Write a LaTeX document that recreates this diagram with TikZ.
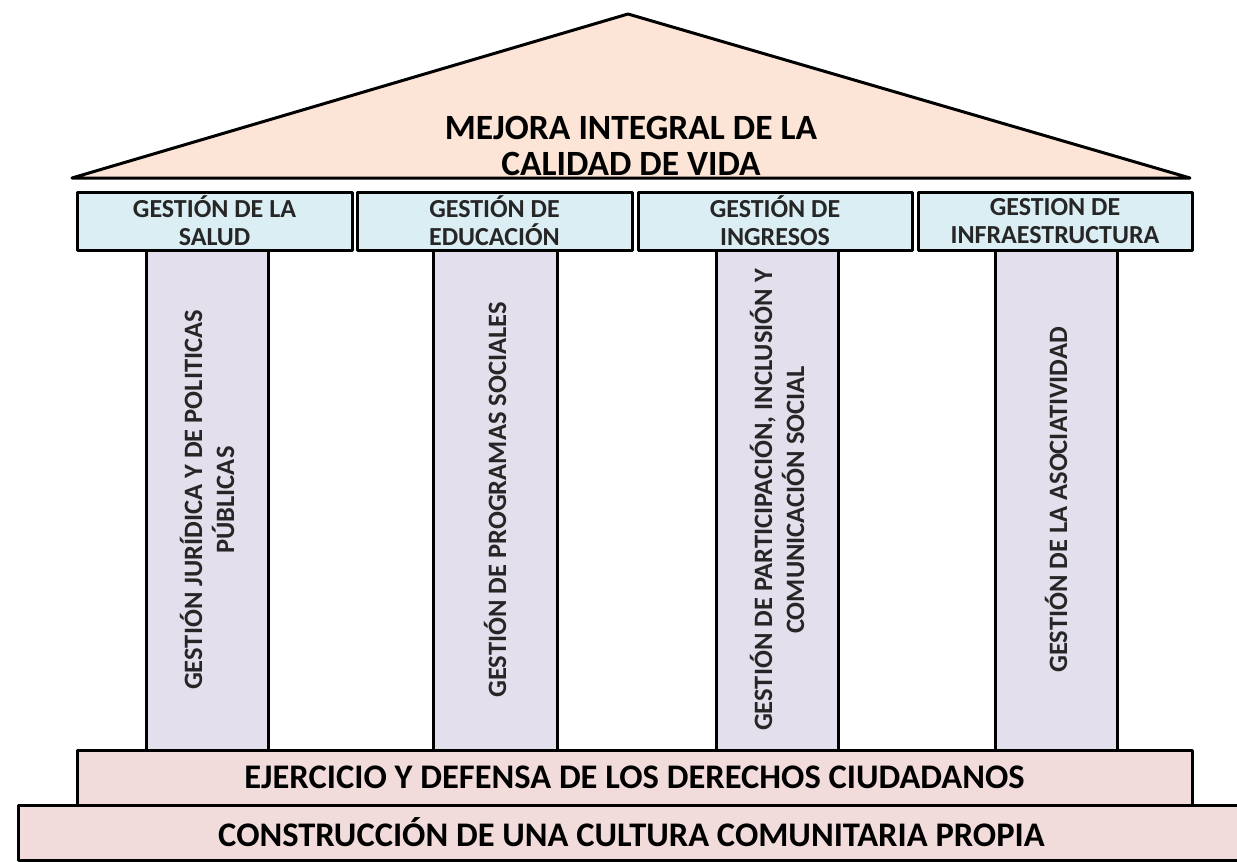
\documentclass[tikz,border=0pt]{standalone}
\usepackage{fontspec}
\setmainfont{Carlito}
\usepackage{tikz}
\usepackage{xcolor}
\definecolor{roof-fill}{HTML}{FCE4D6}
\definecolor{header-fill}{HTML}{DAEEF3}
\definecolor{pillar-fill}{HTML}{E4DFEC}
\definecolor{base-fill}{HTML}{F2DCDB}
\definecolor{label-text}{HTML}{262626}
\tikzset{
    temple-line/.style = {draw=black, line width=3pt, line join=round},
    roof-title/.style = {align=center, text=black, font=\bfseries\fontsize{35.5}{36}\selectfont},
    header-box/.style = {temple-line, fill=header-fill, rectangle, minimum height=58pt, inner sep=0pt, align=center, text=label-text, font=\bfseries\fontsize{26}{28}\selectfont},
    pillar-box/.style = {temple-line, fill=pillar-fill, rectangle, rotate=90, minimum width=500pt, inner sep=0pt, align=center, text=label-text, font=\bfseries\fontsize{26.5}{32}\selectfont},
    base-box/.style = {temple-line, fill=base-fill, rectangle, minimum height=55pt, inner sep=0pt, text=black, font=\bfseries\fontsize{34.5}{36}\selectfont},
}

\begin{document}
\begin{tikzpicture}[x=1pt, y=-1pt]
\useasboundingbox (0,0) rectangle (1237,862);
% roof
\coordinate (roof-left) at (72,178);
\coordinate (roof-top) at (628,14);
\coordinate (roof-right) at (1190,178);
\draw[temple-line, fill=roof-fill] (roof-left) -- (roof-top) -- (roof-right) -- cycle;
\node[roof-title] (roof) at (631,146) {MEJORA INTEGRAL DE LA\\CALIDAD DE VIDA};

% pillars
\node[pillar-box, minimum height=122pt] (pillar-salud) at (207,500) {GESTIÓN JURÍDICA Y DE POLITICAS\\PÚBLICAS};
\node[pillar-box, minimum height=124pt] (pillar-educacion) at (495,500) {GESTIÓN DE PROGRAMAS SOCIALES};
\node[pillar-box, minimum height=122pt] (pillar-ingresos) at (777,500) {GESTIÓN DE PARTICIPACIÓN, INCLUSIÓN Y\\COMUNICACIÓN SOCIAL};
\node[pillar-box, minimum height=122pt] (pillar-infra) at (1056,500) {GESTIÓN DE LA ASOCIATIVIDAD};

% capitals
\node[header-box, minimum width=275pt] (head-salud) at (214.5,221) {GESTIÓN DE LA\\SALUD};
\node[header-box, minimum width=275pt] (head-educacion) at (494.5,221) {GESTIÓN DE\\EDUCACIÓN};
\node[header-box, minimum width=274pt] (head-ingresos) at (775,221) {GESTIÓN DE\\INGRESOS};
\node[header-box, minimum width=274pt] (head-infra) at (1055,221) {GESTION DE\\INFRAESTRUCTURA};

% steps
\node[base-box, minimum width=1115pt] (base-derechos) at (634.5,777.5) {EJERCICIO Y DEFENSA DE LOS DERECHOS CIUDADANOS};
\node[base-box, minimum width=1227pt] (base-cultura) at (631.5,832.5) {CONSTRUCCIÓN DE UNA CULTURA COMUNITARIA PROPIA};
\end{tikzpicture}
\end{document}
